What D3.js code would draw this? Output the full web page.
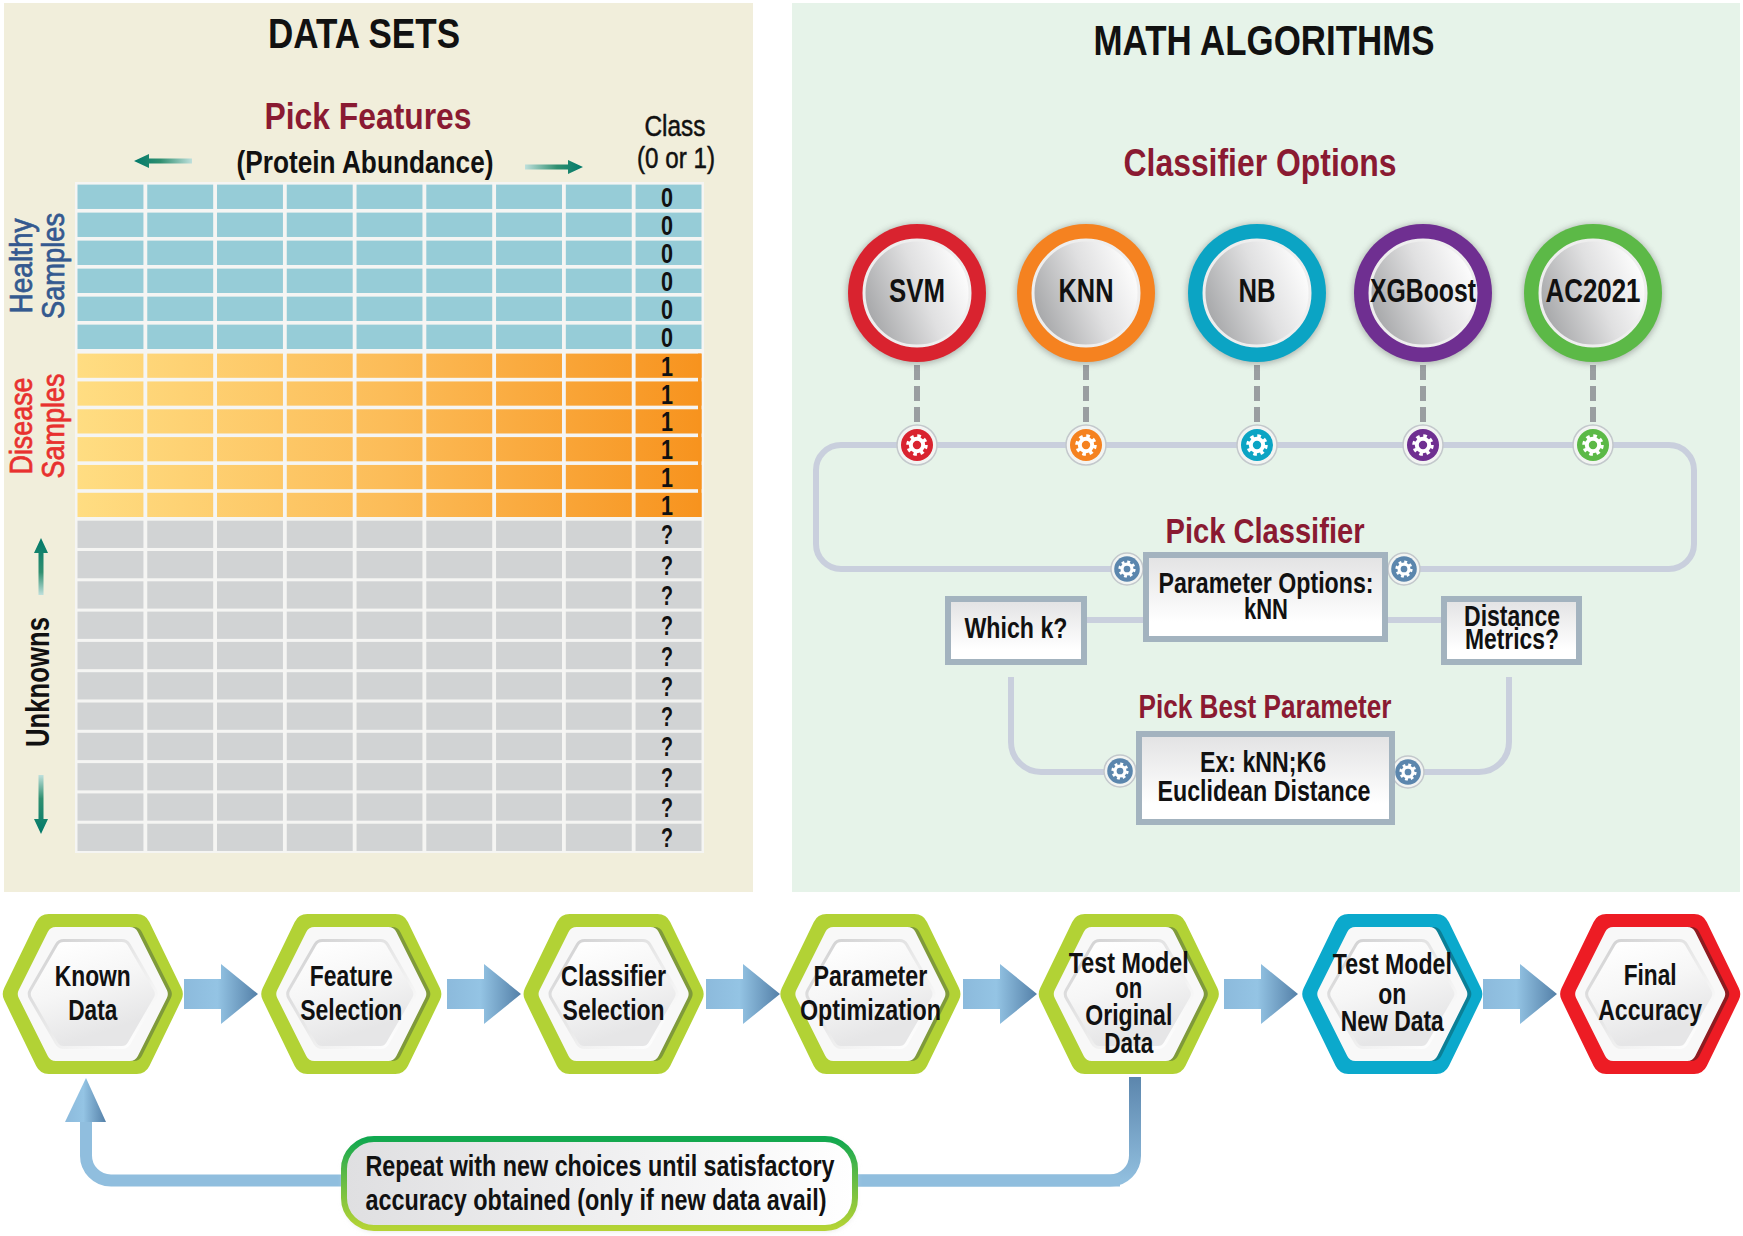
<!DOCTYPE html>
<html lang="en">
<head>
<meta charset="utf-8">
<title>Classifier workflow</title>
<style>
  html, body { margin: 0; padding: 0; background: #fff; }
  svg { display: block; }
  text { font-family: "Liberation Sans Narrow", "Liberation Sans", Arial, sans-serif; }
</style>
</head>
<body>
<svg width="1743" height="1236"></svg>
<script src="https://d3js.org/d3.v7.min.js"></script>
<script>
// data
var features = ["f1", "f2", "f3", "f4", "f5", "f6", "f7", "f8", "class"];
var healthyClass = ["0", "0", "0", "0", "0", "0"];
var diseaseClass = ["1", "1", "1", "1", "1", "1"];
var unknownClass = ["?", "?", "?", "?", "?", "?", "?", "?", "?", "?", "?"];
var classifiers = ["SVM", "KNN", "NB", "XGBoost", "AC2021"];
var classifierColors = ["#d9232f", "#f58220", "#0ba4c4", "#6f2f91", "#5cb947"];
var steps = ["Known Data", "Feature Selection", "Classifier Selection", "Parameter Optimization",
             "Test Model on Original Data", "Test Model on New Data", "Final Accuracy"];
var stepColors = ["#b2d235", "#b2d235", "#b2d235", "#b2d235", "#b2d235", "#0ba9cc", "#ed1c24"];
var stepShadows = ["#7f9a3a", "#7f9a3a", "#7f9a3a", "#7f9a3a", "#7f9a3a", "#0b7f96", "#8e1b20"];

// layout
var classifierX = [917, 1086, 1257, 1423, 1593];
var classifierWidths = [56, 55, 37, 106, 95];
var stepX = [92.8, 351.3, 613.6, 870.4, 1128.8, 1392.3, 1650.2];
var arrowX = [221, 484, 743, 1000, 1261, 1520];
var stepLines = [
  [["Known", 76, 975], ["Data", 49, 1009]],
  [["Feature", 83, 975], ["Selection", 102, 1009]],
  [["Classifier", 105, 975], ["Selection", 102, 1009]],
  [["Parameter", 114, 975], ["Optimization", 141, 1009]],
  [["Test Model", 120, 962], ["on", 27, 987], ["Original", 87, 1014], ["Data", 49, 1042]],
  [["Test Model", 119, 963], ["on", 28, 993], ["New Data", 103, 1020]],
  [["Final", 53, 974], ["Accuracy", 104, 1009]]
];

var svg = d3.select("svg");
var defs = svg.append("defs");

function gradient(id, stops, x1, y1, x2, y2, user) {
  var g = defs.append("linearGradient").attr("id", id)
    .attr("x1", x1).attr("y1", y1).attr("x2", x2).attr("y2", y2);
  if (user) g.attr("gradientUnits", "userSpaceOnUse");
  stops.forEach(function(s) {
    g.append("stop").attr("offset", s[0]).attr("stop-color", s[1]);
  });
}
gradient("orange", [[0, "#ffdd82"], [0.5, "#fcbc58"], [1, "#f7931e"]], 77, 0, 701, 0, true);
gradient("arrow", [[0, "#8cbadc"], [0.45, "#94c4e4"], [1, "#5480a8"]], 0, 0, 1, 0);
gradient("drop", [[0, "#5c86ad"], [1, "#90bede"]], 0, 1077, 0, 1180, true);
gradient("ball", [[0, "#a3a4a6"], [0.55, "#e0e0e1"], [1, "#ffffff"]], 0, 0.7, 1, 0.3);
gradient("hexFill", [[0, "#ffffff"], [0.5, "#f6f6f6"], [1, "#e6e6e7"]], 0, 0, 0.4, 1);
gradient("hexRim", [[0, "#d2d2d3"], [0.55, "#ececec"], [1, "#ffffff"]], 0, 0, 1, 1);
gradient("boxFill", [[0, "#e2e2e3"], [0.8, "#ffffff"], [1, "#ffffff"]], 0, 0, 0, 1);
gradient("repeatFill", [[0, "#dfdfe1"], [1, "#ffffff"]], 0, 0, 1, 0);
gradient("repeatEdge", [[0, "#10a84f"], [0.4, "#5cb947"], [1, "#b4d334"]], 0, 0, 0, 1);
gradient("tealLeft", [[0, "#00796a"], [0.45, "#2f8f70"], [1, "#bfe0dc"]], 0, 0, 1, 0);
gradient("tealRight", [[0, "#bfe0dc"], [0.55, "#2f8f70"], [1, "#00796a"]], 0, 0, 1, 0);
gradient("tealUp", [[0, "#00796a"], [0.6, "#2f8f70"], [1, "#bfe0dc"]], 0, 0, 0, 1);
gradient("tealDown", [[0, "#bfe0dc"], [0.4, "#2f8f70"], [1, "#00796a"]], 0, 0, 0, 1);

var blur = defs.append("filter").attr("id", "soft")
  .attr("x", "-20%").attr("y", "-20%").attr("width", "140%").attr("height", "140%");
blur.append("feGaussianBlur").attr("stdDeviation", 3);

function label(g, str, cx, cy, width, size, color, weight) {
  var t = g.append("text")
    .attr("x", cx).attr("y", cy + size * 0.36)
    .attr("text-anchor", "middle")
    .attr("font-size", size)
    .attr("font-weight", weight || "bold")
    .attr("fill", color || "#111")
    .attr("textLength", width)
    .attr("lengthAdjust", "spacingAndGlyphs")
    .text(str);
  if (weight === "normal") t.attr("stroke", color || "#111").attr("stroke-width", 0.5);
  return t;
}

function vertical(str, x, cy, len, size, color, weight) {
  var t = svg.append("text")
    .attr("transform", "translate(" + x + "," + cy + ") rotate(-90)")
    .attr("text-anchor", "middle")
    .attr("font-size", size)
    .attr("font-weight", weight || "normal")
    .attr("fill", color)
    .attr("textLength", len)
    .attr("lengthAdjust", "spacingAndGlyphs")
    .text(str);
  if (!weight) {
    t.style("font-family", '"Liberation Sans", Arial, sans-serif')
      .attr("stroke", color).attr("stroke-width", 0.7);
  }
}

// panels
svg.append("rect").attr("x", 4).attr("y", 3).attr("width", 749).attr("height", 889).attr("fill", "#f1eedb");
svg.append("rect").attr("x", 792).attr("y", 3).attr("width", 948).attr("height", 889).attr("fill", "#e6f3e9");

label(svg, "DATA SETS", 364, 33, 192, 42);
label(svg, "MATH ALGORITHMS", 1264, 40, 341, 42);
label(svg, "Pick Features", 368, 116, 207, 37, "#8a1a32");
label(svg, "(Protein Abundance)", 365, 161, 257, 32);
label(svg, "Class", 675, 126, 61, 29, "#111", "normal");
label(svg, "(0 or 1)", 676, 158, 78, 29, "#111", "normal");
label(svg, "Classifier Options", 1260, 162, 273, 38, "#8a1a32");

// ---- data table
var x = d3.scaleBand().domain(features).range([77.5, 701.5]).paddingInner(0.055);
var yHealthy = d3.scaleBand().domain(d3.range(6)).range([184.6, 349]).paddingInner(0.13);
var yDisease = d3.scaleBand().domain(d3.range(6)).range([353.6, 517]).paddingInner(0.13);
var yUnknown = d3.scaleBand().domain(d3.range(11)).range([520.7, 851]).paddingInner(0.1);

svg.append("rect").attr("x", 75).attr("y", 182).attr("width", 629).attr("height", 671).attr("fill", "#f5f5f3");

function tableRows(values, y, fill) {
  var row = svg.append("g").selectAll("g").data(values).enter().append("g")
    .attr("transform", function(d, i) { return "translate(0," + y(i) + ")"; });
  row.selectAll("rect").data(features).enter().append("rect")
    .attr("x", function(f) { return x(f); })
    .attr("width", x.bandwidth())
    .attr("height", y.bandwidth())
    .attr("fill", fill);
  return row;
}
var healthyRows = tableRows(healthyClass, yHealthy, "#96ccd7");
var diseaseRows = tableRows(diseaseClass, yDisease, "url(#orange)");
var unknownRows = tableRows(unknownClass, yUnknown, "#d1d3d4");

// the class column stays orange along its right edge
svg.append("rect").attr("x", 698).attr("y", 353.6).attr("width", 3.5).attr("height", 163.4).attr("fill", "#f7931e");

[[healthyRows, yHealthy], [diseaseRows, yDisease], [unknownRows, yUnknown]].forEach(function(p) {
  p[0].append("text")
    .attr("x", x("class") + x.bandwidth() / 2 - 1.5)
    .attr("y", p[1].bandwidth() / 2 + 10)
    .attr("text-anchor", "middle")
    .attr("font-size", 28)
    .attr("font-weight", "bold")
    .attr("fill", "#111")
    .attr("textLength", 12)
    .attr("lengthAdjust", "spacingAndGlyphs")
    .text(function(d) { return d; });
});

vertical("Healthy", 32, 266, 95, 31, "#34598f");
vertical("Samples", 64, 266, 106, 31, "#34598f");
vertical("Disease", 32, 426, 97, 31, "#e8312f");
vertical("Samples", 64, 426, 105, 31, "#e8312f");
vertical("Unknowns", 49, 682, 130, 34, "#111", "bold");

function tealArrow(x0, y0, x1, y1, fill) {
  // thin tail with a small solid head at the (x1, y1) end
  var horizontal = y0 === y1;
  var dir = horizontal ? Math.sign(x1 - x0) : Math.sign(y1 - y0);
  var h = 15, hw = 7, w = 2.5, p;
  if (horizontal) {
    p = [[x0, y0 - w], [x1 - dir * h, y0 - w], [x1 - dir * h, y0 - hw], [x1, y0],
         [x1 - dir * h, y0 + hw], [x1 - dir * h, y0 + w], [x0, y0 + w]];
  } else {
    p = [[x0 - w, y0], [x0 - w, y1 - dir * h], [x0 - hw, y1 - dir * h], [x0, y1],
         [x0 + hw, y1 - dir * h], [x0 + w, y1 - dir * h], [x0 + w, y0]];
  }
  svg.append("polygon").attr("points", p.join(" ")).attr("fill", fill);
}
tealArrow(192, 161, 134, 161, "url(#tealLeft)");
tealArrow(525, 167, 583, 167, "url(#tealRight)");
tealArrow(41, 595, 41, 538, "url(#tealUp)");
tealArrow(41, 775, 41, 834, "url(#tealDown)");

// ---- classifier options
var cx = d3.scaleOrdinal().domain(classifiers).range(classifierX);
var railColor = "#c9cfdd";

function rail(d) {
  svg.append("path").attr("d", d).attr("fill", "none").attr("stroke", railColor).attr("stroke-width", 6);
}
rail("M1111,569H841A25,25 0 0 1 816,544V470A25,25 0 0 1 841,445H1669A25,25 0 0 1 1694,470V544A25,25 0 0 1 1669,569H1420");
rail("M1011,677V742A30,30 0 0 0 1041,772H1106");
rail("M1509,677V742A30,30 0 0 1 1479,772H1422");
rail("M1087,620H1143");
rail("M1388,620H1441");

svg.append("g").selectAll("line").data(classifiers).enter().append("line")
  .attr("x1", function(d) { return cx(d); }).attr("x2", function(d) { return cx(d); })
  .attr("y1", 365).attr("y2", 422)
  .attr("stroke", "#9a9ea1").attr("stroke-width", 6).attr("stroke-dasharray", "15 6");

var ball = svg.append("g").selectAll("g").data(classifiers).enter().append("g")
  .attr("transform", function(d) { return "translate(" + cx(d) + ",293)"; });
ball.append("circle").attr("r", 70).attr("cy", 1).attr("fill", "#555").attr("opacity", 0.4).attr("filter", "url(#soft)");
ball.append("circle").attr("r", 69).attr("fill", function(d, i) { return classifierColors[i]; });
ball.append("circle").attr("r", 53).attr("fill", "url(#ball)").attr("stroke", "#eeeeee").attr("stroke-width", 3);
ball.each(function(d, i) {
  label(d3.select(this), d, 0, -3, classifierWidths[i], 34);
});

function gear(px, py, r, color) {
  var g = svg.append("g").attr("transform", "translate(" + px + "," + py + ")");
  g.append("circle").attr("r", r).attr("fill", "#f2f4f2").attr("stroke", "#c3c8cc").attr("stroke-width", 1.5);
  g.append("circle").attr("r", r * 0.8).attr("fill", color);
  var k = r / 20;
  g.append("circle").attr("r", 6.2 * k).attr("fill", "none").attr("stroke", "#fff").attr("stroke-width", 4 * k);
  var c = 2 * Math.PI * 9 * k;
  g.append("circle").attr("r", 9 * k).attr("fill", "none").attr("stroke", "#fff").attr("stroke-width", 3.5 * k)
    .attr("stroke-dasharray", (c / 16) + " " + (c / 16));
}
classifiers.forEach(function(d, i) { gear(cx(d), 445, 20, classifierColors[i]); });
[[1127, 569], [1404, 569], [1120, 771], [1408, 772]].forEach(function(p) { gear(p[0], p[1], 16, "#5b86ad"); });

function box(x0, y0, w, h) {
  svg.append("rect").attr("x", x0).attr("y", y0).attr("width", w).attr("height", h).attr("fill", "#eef1ee");
  svg.append("rect").attr("x", x0 + 3).attr("y", y0 + 3).attr("width", w - 6).attr("height", h - 6)
    .attr("fill", "url(#boxFill)").attr("stroke", "#a3b3bf").attr("stroke-width", 6);
}
box(1143, 552, 245, 90);
box(945, 596, 142, 69);
box(1441, 596, 141, 69);
box(1136, 731, 259, 94);

label(svg, "Pick Classifier", 1265, 530, 199, 35, "#8a1a32");
label(svg, "Pick Best Parameter", 1265, 706, 253, 33, "#8a1a32");
label(svg, "Parameter Options:", 1266, 582, 215, 30);
label(svg, "kNN", 1266, 608, 44, 30);
label(svg, "Which k?", 1016, 627, 103, 30);
label(svg, "Distance", 1512, 616, 96, 29);
label(svg, "Metrics?", 1512, 639, 94, 29);
label(svg, "Ex: kNN;K6", 1263, 761, 126, 30);
label(svg, "Euclidean Distance", 1264, 790, 213, 30);

// ---- workflow row
var hx = d3.scaleOrdinal().domain(steps).range(stepX);
var hexPath = d3.line().curve(d3.curveLinearClosed);

function hexPoints(hw, hh, top) {
  return [[-hw, 0], [-top, -hh], [top, -hh], [hw, 0], [top, hh], [-top, hh]];
}
var hex = svg.append("g").selectAll("g").data(steps).enter().append("g")
  .attr("transform", function(d) { return "translate(" + hx(d) + ",994)"; });
hex.append("path").attr("d", hexPath(hexPoints(76, 66, 44)))
  .attr("fill", function(d, i) { return stepColors[i]; })
  .attr("stroke", function(d, i) { return stepColors[i]; })
  .attr("stroke-width", 28).attr("stroke-linejoin", "round");
hex.append("path").attr("d", hexPath(hexPoints(66, 58, 37))).attr("transform", "translate(4,0)")
  .attr("fill", function(d, i) { return stepShadows[i]; })
  .attr("stroke", function(d, i) { return stepShadows[i]; })
  .attr("stroke-width", 18).attr("stroke-linejoin", "round");
hex.append("path").attr("d", hexPath(hexPoints(66, 58, 37)))
  .attr("fill", "#f8f8f8").attr("stroke", "#f8f8f8")
  .attr("stroke-width", 18).attr("stroke-linejoin", "round");
hex.append("path").attr("d", hexPath(hexPoints(55, 45, 29)))
  .attr("fill", "url(#hexRim)").attr("stroke", "url(#hexRim)")
  .attr("stroke-width", 20).attr("stroke-linejoin", "round");
hex.append("path").attr("d", hexPath(hexPoints(55, 45, 29)))
  .attr("fill", "url(#hexFill)").attr("stroke", "url(#hexFill)")
  .attr("stroke-width", 14).attr("stroke-linejoin", "round");

stepLines.forEach(function(lines, i) {
  var centre = hx(steps[i]);
  lines.forEach(function(l) {
    label(svg, l[0], centre, l[2], l[1], 30);
  });
});

// arrows between steps
svg.append("g").selectAll("polygon").data(arrowX).enter().append("polygon")
  .attr("fill", "url(#arrow)")
  .attr("points", function(mid) {
    return [[mid - 37, 979], [mid, 979], [mid, 964], [mid + 37, 994],
            [mid, 1024], [mid, 1009], [mid - 37, 1009]].join(" ");
  });

// feedback loop
svg.append("path")
  .attr("d", "M86,1118V1155A25,25 0 0 0 111,1180.5H400")
  .attr("fill", "none").attr("stroke", "#90bede").attr("stroke-width", 12);
svg.append("polygon")
  .attr("points", [[86, 1078], [106, 1122], [65, 1122]].join(" "))
  .attr("fill", "url(#arrow)");
svg.append("path")
  .attr("d", "M1135,1077V1155A25,25 0 0 1 1110,1180.5H800")
  .attr("fill", "none").attr("stroke", "url(#drop)").attr("stroke-width", 12);
svg.append("rect").attr("x", 800).attr("y", 1174.5).attr("width", 320).attr("height", 12).attr("fill", "#90bede");

svg.append("rect").attr("x", 345).attr("y", 1140).attr("width", 510).attr("height", 90).attr("rx", 30)
  .attr("fill", "#d8d8d8").attr("filter", "url(#soft)");
svg.append("rect").attr("x", 344).attr("y", 1139).attr("width", 511).attr("height", 89).attr("rx", 30)
  .attr("fill", "url(#repeatFill)").attr("stroke", "url(#repeatEdge)").attr("stroke-width", 6);
label(svg, "Repeat with new choices until satisfactory", 600, 1165, 469, 30);
label(svg, "accuracy obtained (only if new data avail)", 596, 1199, 461, 30);
</script>
</body>
</html>
